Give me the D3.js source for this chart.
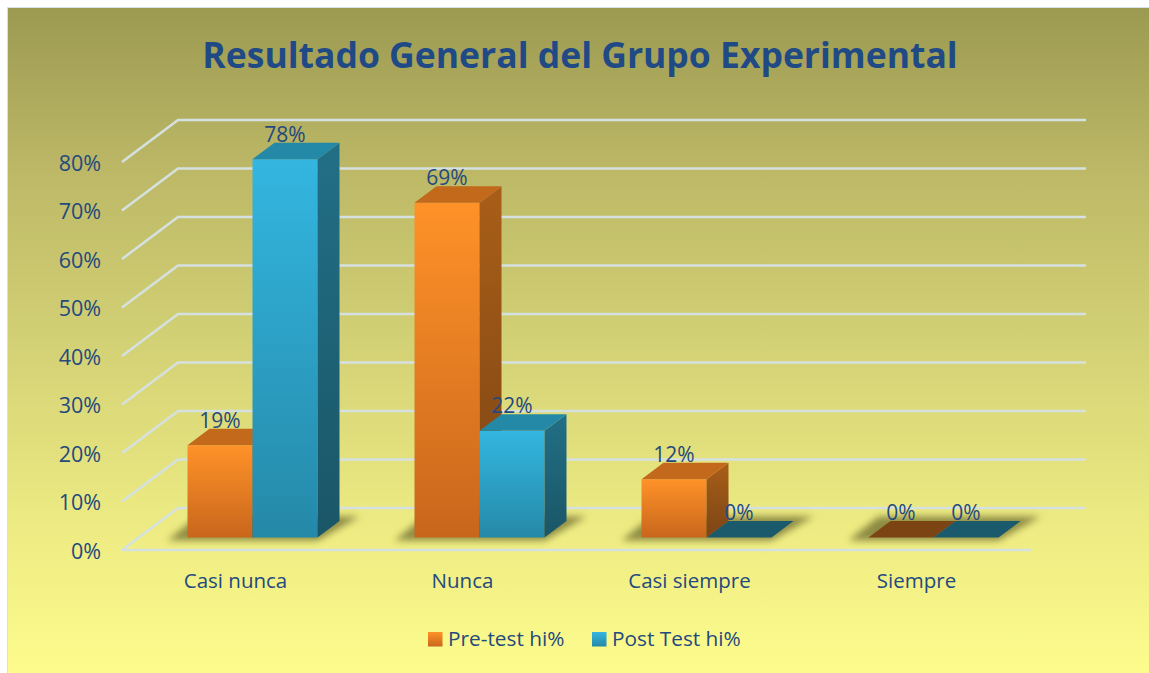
<!DOCTYPE html>
<meta charset="utf-8">
<head>
  <meta charset="utf-8">
  <title>Resultado General del Grupo Experimental</title>
  <script src="https://d3js.org/d3.v7.min.js"></script>
  <style>
    html, body { margin: 0; padding: 0; background: #fff; overflow: hidden; }
    svg { display: block; }
    text { font-family: "Open Sans", sans-serif; fill: #24497e; }
    .axis path, .axis line { display: none; }
    .axis text { font-family: "Open Sans", sans-serif; font-size: 20.5px; fill: #24497e; }
    .y.axis text { font-size: 21.5px; }
  </style>
</head>
<body>
<div id="chart"></div>
<script>
// data
var categories = ["Casi nunca", "Nunca", "Casi siempre", "Siempre"];
var preTest = [19, 69, 12, 0];
var postTest = [78, 22, 0, 0];
var seriesNames = ["Pre-test hi%", "Post Test hi%"];
var yTicks = [0, 10, 20, 30, 40, 50, 60, 70, 80];

var width = 1149, height = 673;

var svg = d3.select("#chart").append("svg")
    .attr("width", width)
    .attr("height", height);

var defs = svg.append("defs");

function gradient(id, stops) {
  var g = defs.append("linearGradient").attr("id", id)
    .attr("x1", 0).attr("y1", 0).attr("x2", 0).attr("y2", 1);
  stops.forEach(function(s) {
    g.append("stop").attr("offset", s[0]).attr("stop-color", s[1]);
  });
}
gradient("bg", [[0, "#9c9a52"], [0.25, "#bdb967"], [0.5, "#d3d175"], [0.75, "#ebe981"], [1, "#fefd8d"]]);
gradient("orangeFront", [[0, "#ff9228"], [1, "#c8661c"]]);
gradient("orangeSide", [[0, "#a95e18"], [1, "#7c4514"]]);
gradient("blueFront", [[0, "#33b6e0"], [1, "#2589a8"]]);
gradient("blueSide", [[0, "#226f86"], [1, "#1a5667"]]);

defs.append("filter").attr("id", "blur")
    .attr("x", "-20%").attr("y", "-50%").attr("width", "140%").attr("height", "200%")
  .append("feGaussianBlur").attr("stdDeviation", 3.5);

// chart area
svg.append("rect")
    .attr("x", 7.5).attr("y", 7.5)
    .attr("width", width).attr("height", height)
    .attr("fill", "url(#bg)")
    .attr("stroke", "#d5e0ea");

// title
svg.append("text")
    .attr("x", 580)
    .attr("y", 68)
    .attr("text-anchor", "middle")
    .style("font-size", "35.5px")
    .style("font-weight", 700)
    .style("fill", "#1f4a86")
    .text("Resultado General del Grupo Experimental");

// scales, front edge of the 3d box
var x = d3.scaleBand().domain(categories).range([122, 1030]);
var bar = d3.scaleBand().domain([0, 1]).range([0, 130]);
var y = d3.scaleLinear().domain([0, 80]).range([550, 162]);

// 3d offsets
var wallDx = 56, wallDy = -42;   // side wall and floor depth
var barDx = 22, barDy = -16.5;   // bar depth
var barShiftX = 17, barShiftY = -12.5;  // bars sit inside the floor
var backRight = 1086;

// gridlines
var grid = svg.append("g")
    .attr("fill", "none")
    .attr("stroke", "#d5e1e0")
    .attr("stroke-width", 2.5);

grid.selectAll("polyline")
    .data(yTicks)
  .enter().append("polyline")
    .attr("points", function(d) {
      return [[122, y(d)], [122 + wallDx, y(d) + wallDy], [backRight, y(d) + wallDy]].join(" ");
    });

grid.append("line")
    .attr("x1", 122).attr("x2", 1031)
    .attr("y1", y(0)).attr("y2", y(0));

// axes
svg.append("g")
    .attr("class", "y axis")
    .attr("transform", "translate(101,1.5)")
    .call(d3.axisLeft(y).tickValues(yTicks).tickSize(0).tickPadding(0).tickFormat(function(d) { return d + "%"; }))
    .selectAll("text").attr("dy", "0.32em");

svg.append("g")
    .attr("class", "x axis")
    .attr("transform", "translate(0,570)")
    .call(d3.axisBottom(x).tickSize(0));

// bars
var rows = categories.map(function(c, i) { return {cat: c, values: [preTest[i], postTest[i]]}; });

var fills = [
  {front: "url(#orangeFront)", side: "url(#orangeSide)", top: "#c2691b", flat: "#7c4413"},
  {front: "url(#blueFront)", side: "url(#blueSide)", top: "#2489a6", flat: "#1a5a6c"}
];

function pts(a) { return a.map(function(p) { return p.join(","); }).join(" "); }

var groups = svg.selectAll(".cat")
    .data(rows)
  .enter().append("g")
    .attr("class", "cat")
    .attr("transform", function(d) {
      return "translate(" + (x(d.cat) + x.bandwidth() / 2 - 65 + barShiftX) + "," + barShiftY + ")";
    });

// floor shadow
groups.append("polygon")
    .attr("points", function() {
      var b = y(0);
      return pts([[-20, b + 3], [130, b + 3], [130 + 42, b - 21], [10, b - 21]]);
    })
    .attr("fill", "#5a5922")
    .attr("opacity", 0.65)
    .attr("filter", "url(#blur)");

groups.each(function(row) {
  var g = d3.select(this);
  row.values.forEach(function(v, s) {
    var x0 = bar(s), x1 = x0 + bar.bandwidth(), yt = y(v), yb = y(0), f = fills[s];
    if (v > 0) {
      g.append("rect")
          .attr("x", x0).attr("y", yt)
          .attr("width", bar.bandwidth()).attr("height", yb - yt)
          .attr("fill", f.front);
      g.append("polygon")
          .attr("points", pts([[x1, yt], [x1 + barDx, yt + barDy], [x1 + barDx, yb + barDy], [x1, yb]]))
          .attr("fill", f.side);
    }
    g.append("polygon")
        .attr("points", pts([[x0, yt], [x1, yt], [x1 + barDx, yt + barDy], [x0 + barDx, yt + barDy]]))
        .attr("fill", v > 0 ? f.top : f.flat);
  });
});

// data labels go on top of every bar
groups.each(function(row) {
  var g = d3.select(this);
  row.values.forEach(function(v, s) {
    g.append("text")
        .attr("x", bar(s) + bar.bandwidth() / 2)
        .attr("y", y(v) - 17.5)
        .attr("text-anchor", "middle")
        .style("font-size", "21px")
        .text(v + "%");
  });
});

// legend
var legendX = [428, 592];
var legend = svg.selectAll(".legend")
    .data(seriesNames)
  .enter().append("g")
    .attr("class", "legend")
    .attr("transform", function(d, i) { return "translate(" + legendX[i] + ",632)"; });

legend.append("rect")
    .attr("width", 14.5).attr("height", 14.5)
    .attr("fill", function(d, i) { return fills[i].front; });

legend.append("text")
    .attr("x", 20)
    .attr("y", 13.5)
    .style("font-size", "20.8px")
    .text(function(d) { return d; });
</script>
</body>
